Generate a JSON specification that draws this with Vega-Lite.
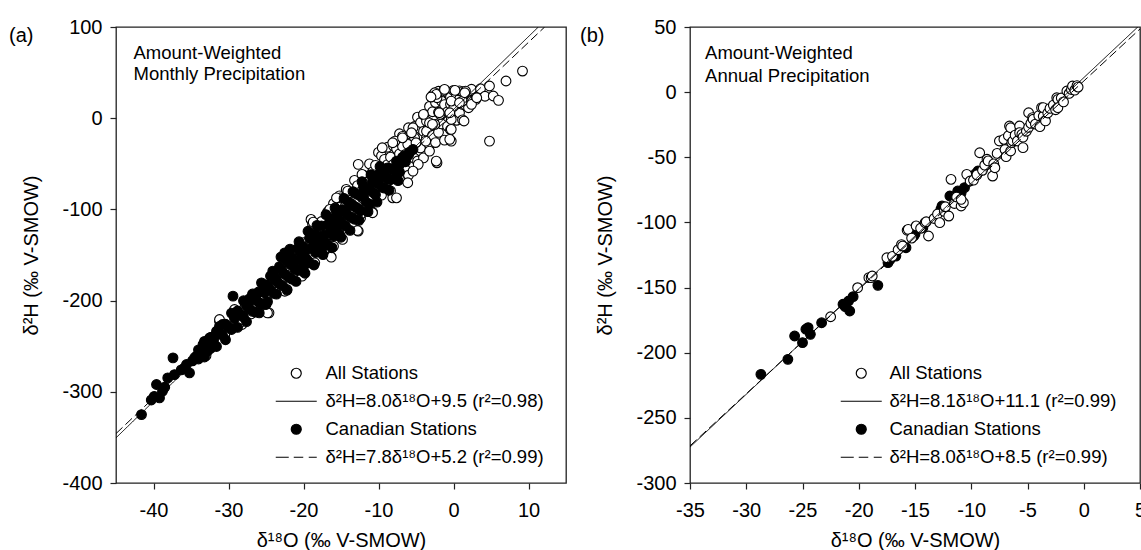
{
  "$schema": "https://vega.github.io/schema/vega-lite/v6.json",
  "background": "white",
  "padding": {"left": 8, "top": 16, "right": 0, "bottom": 0},
  "spacing": 12,
  "config": {
    "font": "Liberation Sans",
    "view": {"stroke": "#222", "strokeWidth": 1.3},
    "axis": {"grid": false, "domain": false, "labelFlush": false, "labelOverlap": false, "tickColor": "#222", "tickSize": 6, "tickWidth": 1.2, "labelFont": "Liberation Sans", "labelFontSize": 20, "labelColor": "black", "titleFont": "Liberation Sans", "titleFontSize": 20, "titleFontWeight": "normal", "titleColor": "black"},
    "axisX": {"labelPadding": 11, "titlePadding": 10},
    "axisY": {"labelPadding": 8, "titlePadding": 20},
    "title": {"font": "Liberation Sans", "fontSize": 20, "fontWeight": "normal", "color": "black"}
  },
  "resolve": {
    "scale": {"x": "independent", "y": "independent", "shape": "independent", "fill": "independent", "strokeDash": "independent"},
    "legend": {"shape": "independent", "fill": "independent"}
  },
  "hconcat": [
    {
      "width": 450,
      "height": 456,
      "title": {"text": "(a)", "anchor": "start", "frame": "bounds", "baseline": "middle", "offset": -39, "dx": -13},
      "layer": [
        {
          "data": {"values": [
            {"s":"o","x":-34.5,"y":-262.5},{"s":"o","x":-33.0,"y":-260.5},{"s":"o","x":-32.2,"y":-240.1},{"s":"o","x":-30.5,"y":-237.5},{"s":"o","x":-27.8,"y":-206.9},{"s":"o","x":-27.0,"y":-214.5},{"s":"o","x":-26.4,"y":-198.7},{"s":"o","x":-25.6,"y":-205.3},{"s":"o","x":-23.8,"y":-175.9},{"s":"o","x":-23.2,"y":-188.1},{"s":"o","x":-21.7,"y":-155.1},{"s":"o","x":-21.0,"y":-172.5},{"s":"o","x":-20.6,"y":-153.3},
            {"s":"o","x":-31.2,"y":-222.6},{"s":"o","x":-29.2,"y":-212.7},{"s":"o","x":-28.2,"y":-226.2},{"s":"o","x":-24.6,"y":-213.4},{"s":"o","x":-22.2,"y":-187.8},{"s":"o","x":-20.2,"y":-173.2},{"s":"o","x":-31.2,"y":-220.7},{"s":"o","x":-28.5,"y":-224.4},{"s":"o","x":-24.8,"y":-213.5},{"s":"o","x":-29.2,"y":-209.8},{"s":"o","x":-22.5,"y":-189.7},
            {"s":"o","x":-20.0,"y":-136.5},{"s":"o","x":-20.0,"y":-168.5},{"s":"o","x":-19.5,"y":-140.5},{"s":"o","x":-19.5,"y":-155.5},{"s":"o","x":-19.0,"y":-122.5},{"s":"o","x":-18.5,"y":-158.5},{"s":"o","x":-18.5,"y":-127.5},{"s":"o","x":-18.0,"y":-132.5},{"s":"o","x":-18.0,"y":-146.5},{"s":"o","x":-17.6,"y":-113.3},{"s":"o","x":-17.2,"y":-144.1},{"s":"o","x":-17.2,"y":-121.1},{"s":"o","x":-16.8,"y":-102.9},{"s":"o","x":-16.4,"y":-127.7},{"s":"o","x":-16.4,"y":-108.7},{"s":"o","x":-16.0,"y":-140.5},{"s":"o","x":-16.0,"y":-93.5},{"s":"o","x":-15.6,"y":-106.3},{"s":"o","x":-15.6,"y":-128.3},{"s":"o","x":-15.2,"y":-85.1},{"s":"o","x":-14.8,"y":-111.9},{"s":"o","x":-14.8,"y":-92.9},{"s":"o","x":-14.8,"y":-132.9},{"s":"o","x":-14.4,"y":-95.7},{"s":"o","x":-14.0,"y":-81.5},{"s":"o","x":-14.0,"y":-111.5},{"s":"o","x":-13.6,"y":-118.3},{"s":"o","x":-13.6,"y":-95.3},{"s":"o","x":-13.2,"y":-68.1},{"s":"o","x":-13.2,"y":-82.1},{"s":"o","x":-12.8,"y":-99.9},{"s":"o","x":-12.8,"y":-73.9},{"s":"o","x":-12.4,"y":-80.7},{"s":"o","x":-12.4,"y":-109.7},{"s":"o","x":-12.0,"y":-62.5},{"s":"o","x":-12.0,"y":-88.5},{"s":"o","x":-11.6,"y":-70.3},{"s":"o","x":-11.6,"y":-97.3},{"s":"o","x":-11.2,"y":-50.1},{"s":"o","x":-11.2,"y":-75.1},{"s":"o","x":-10.8,"y":-85.9},{"s":"o","x":-10.8,"y":-58.9},{"s":"o","x":-10.8,"y":-102.9},{"s":"o","x":-10.4,"y":-65.7},{"s":"o","x":-10.4,"y":-51.7},{"s":"o","x":-10.0,"y":-74.5},{"s":"o","x":-10.0,"y":-37.5},
            {"s":"o","x":-19.0,"y":-111.0},{"s":"o","x":-18.8,"y":-115.8},{"s":"o","x":-18.7,"y":-114.0},{"s":"o","x":-16.6,"y":-101.9},{"s":"o","x":-16.5,"y":-100.0},{"s":"o","x":-15.1,"y":-87.3},{"s":"o","x":-15.6,"y":-87.3},{"s":"o","x":-16.3,"y":-152.4},{"s":"o","x":-14.2,"y":-83.6},{"s":"o","x":-14.3,"y":-78.1},{"s":"o","x":-14.1,"y":-79.9},{"s":"o","x":-12.4,"y":-105.5},{"s":"o","x":-12.7,"y":-123.8},{"s":"o","x":-12.8,"y":-123.1},{"s":"o","x":-11.5,"y":-101.9},{"s":"o","x":-10.8,"y":-103.7},{"s":"o","x":-12.7,"y":-50.6},{"s":"o","x":-12.2,"y":-61.6},
            {"s":"o","x":-9.6,"y":-55.3},{"s":"o","x":-9.6,"y":-84.3},{"s":"o","x":-9.6,"y":-41.3},{"s":"o","x":-9.2,"y":-61.1},{"s":"o","x":-9.2,"y":-45.1},{"s":"o","x":-8.8,"y":-68.9},{"s":"o","x":-8.8,"y":-31.9},{"s":"o","x":-8.8,"y":-50.9},{"s":"o","x":-8.4,"y":-42.7},{"s":"o","x":-8.4,"y":-79.7},{"s":"o","x":-8.0,"y":-50.5},{"s":"o","x":-8.0,"y":-30.5},{"s":"o","x":-8.0,"y":-65.5},{"s":"o","x":-7.6,"y":-33.3},{"s":"o","x":-7.6,"y":-54.3},{"s":"o","x":-7.2,"y":-39.1},{"s":"o","x":-7.2,"y":-67.1},{"s":"o","x":-7.2,"y":-17.1},{"s":"o","x":-6.8,"y":-30.9},{"s":"o","x":-6.8,"y":-50.9},{"s":"o","x":-6.8,"y":-19.9},{"s":"o","x":-6.4,"y":-39.7},{"s":"o","x":-6.4,"y":-21.7},{"s":"o","x":-6.4,"y":-56.7},{"s":"o","x":-6.0,"y":-27.5},{"s":"o","x":-6.0,"y":-62.5},{"s":"o","x":-6.0,"y":-10.5},{"s":"o","x":-5.6,"y":-18.3},{"s":"o","x":-5.6,"y":-39.3},{"s":"o","x":-5.6,"y":-29.3},{"s":"o","x":-5.2,"y":-9.1},{"s":"o","x":-5.2,"y":-44.1},{"s":"o","x":-5.2,"y":-22.1},{"s":"o","x":-4.8,"y":-27.9},{"s":"o","x":-4.8,"y":1.1},{"s":"o","x":-4.8,"y":-46.9},{"s":"o","x":-4.4,"y":-11.7},{"s":"o","x":-4.4,"y":-32.7},{"s":"o","x":-4.4,"y":-4.7},{"s":"o","x":-4.0,"y":-14.5},{"s":"o","x":-4.0,"y":-43.5},{"s":"o","x":-4.0,"y":3.5},{"s":"o","x":-3.6,"y":-3.3},{"s":"o","x":-3.6,"y":-21.3},{"s":"o","x":-3.6,"y":-14.3},{"s":"o","x":-3.2,"y":12.9},{"s":"o","x":-3.2,"y":-29.1},{"s":"o","x":-3.2,"y":-5.1},{"s":"o","x":-2.8,"y":7.1},{"s":"o","x":-2.8,"y":-18.9},{"s":"o","x":-2.8,"y":25.1},{"s":"o","x":-2.4,"y":-6.7},{"s":"o","x":-2.4,"y":17.3},{"s":"o","x":-2.4,"y":-26.7},{"s":"o","x":-2.0,"y":6.5},{"s":"o","x":-2.0,"y":29.5},{"s":"o","x":-2.0,"y":-15.5},{"s":"o","x":-1.6,"y":18.7},{"s":"o","x":-1.6,"y":-6.3},{"s":"o","x":-1.6,"y":4.7},{"s":"o","x":-1.2,"y":30.9},{"s":"o","x":-1.2,"y":-24.1},{"s":"o","x":-1.2,"y":14.9},{"s":"o","x":-0.8,"y":7.1},{"s":"o","x":-0.8,"y":28.1},{"s":"o","x":-0.8,"y":-8.9},{"s":"o","x":-0.4,"y":23.3},{"s":"o","x":-0.4,"y":-12.7},{"s":"o","x":-0.4,"y":15.3},{"s":"o","x":0.0,"y":30.5},{"s":"o","x":0.0,"y":3.5},{"s":"o","x":0.0,"y":10.5},{"s":"o","x":0.4,"y":-2.3},{"s":"o","x":0.4,"y":24.7},{"s":"o","x":0.8,"y":20.9},{"s":"o","x":0.8,"y":5.9},{"s":"o","x":0.8,"y":29.9},{"s":"o","x":1.2,"y":15.1},{"s":"o","x":1.2,"y":29.1},{"s":"o","x":1.2,"y":-1.9},{"s":"o","x":1.6,"y":29.3},{"s":"o","x":1.6,"y":14.3},{"s":"o","x":2.0,"y":23.5},{"s":"o","x":2.0,"y":11.5},{"s":"o","x":2.4,"y":19.7},{"s":"o","x":2.4,"y":31.7},{"s":"o","x":3.0,"y":22.5},{"s":"o","x":3.6,"y":32.3},{"s":"o","x":4.2,"y":24.1},
            {"s":"o","x":-2.5,"y":27.9},{"s":"o","x":-1.3,"y":30.5},{"s":"o","x":0.2,"y":30.5},{"s":"o","x":1.6,"y":29.7},{"s":"o","x":-2.2,"y":22.4},{"s":"o","x":-0.3,"y":18.8},{"s":"o","x":1.2,"y":18.8},{"s":"o","x":2.4,"y":18.8},{"s":"o","x":-4.0,"y":4.2},{"s":"o","x":-1.8,"y":4.2},{"s":"o","x":-2.5,"y":-6.8},{"s":"o","x":-0.3,"y":-1.3},{"s":"o","x":1.4,"y":-3.1},{"s":"o","x":-0.3,"y":-12.2},{"s":"o","x":-0.3,"y":-25.1},{"s":"o","x":-2.2,"y":-48.9},{"s":"o","x":-5.4,"y":-10.5},{"s":"o","x":-5.2,"y":-21.5},{"s":"o","x":-9.5,"y":-32.4},{"s":"o","x":-7.8,"y":-25.1},{"s":"o","x":-6.1,"y":-28.7},{"s":"o","x":-3.7,"y":-25.1},{"s":"o","x":-3.2,"y":-36.1},{"s":"o","x":-4.7,"y":-50.6},{"s":"o","x":-5.4,"y":-58.0},{"s":"o","x":-6.1,"y":-70.8},{"s":"o","x":-8.1,"y":-87.3},{"s":"o","x":-7.6,"y":-87.3},{"s":"o","x":-9.0,"y":-72.6},{"s":"o","x":-2.3,"y":26.1},{"s":"o","x":-1.2,"y":31.6},{"s":"o","x":1.5,"y":27.9},{"s":"o","x":3.0,"y":20.7},{"s":"o","x":-3.0,"y":23.2},{"s":"o","x":0.8,"y":16.9},{"s":"o","x":2.4,"y":15.2},{"s":"o","x":-1.9,"y":6.0},{"s":"o","x":-0.5,"y":6.0},{"s":"o","x":-2.8,"y":-6.8},{"s":"o","x":-0.5,"y":-23.2},{"s":"o","x":-5.6,"y":-16.0},{"s":"o","x":-6.8,"y":-21.5},{"s":"o","x":-8.1,"y":-26.9},{"s":"o","x":-5.0,"y":-26.9},{"s":"o","x":-2.3,"y":-47.0},
            {"s":"o","x":9.2,"y":51.7},{"s":"o","x":7.0,"y":40.8},{"s":"o","x":4.8,"y":35.3},{"s":"o","x":5.3,"y":24.3},{"s":"o","x":6.0,"y":19.6},{"s":"o","x":4.8,"y":-25.1},{"s":"o","x":3.1,"y":22.4},
            {"s":"f","x":-41.6,"y":-325.0},{"s":"f","x":-40.3,"y":-309.0},{"s":"f","x":-39.9,"y":-305.0},{"s":"f","x":-39.6,"y":-292.0},{"s":"f","x":-39.2,"y":-306.7},{"s":"f","x":-38.8,"y":-299.4},{"s":"f","x":-38.5,"y":-295.0},{"s":"f","x":-38.1,"y":-284.8},{"s":"f","x":-37.2,"y":-281.1},{"s":"f","x":-37.4,"y":-262.8},{"s":"f","x":-36.3,"y":-276.0},{"s":"f","x":-35.9,"y":-274.0},{"s":"f","x":-35.2,"y":-279.3},{"s":"f","x":-35.6,"y":-270.1},{"s":"f","x":-34.8,"y":-266.0},{"s":"f","x":-34.3,"y":-261.0},{"s":"f","x":-33.4,"y":-248.2},{"s":"f","x":-32.8,"y":-255.5},{"s":"f","x":-32.5,"y":-240.9},{"s":"f","x":-31.6,"y":-233.6},{"s":"f","x":-30.8,"y":-226.2},{"s":"f","x":-29.4,"y":-195.1},{"s":"f","x":-27.2,"y":-200.6},{"s":"f","x":-26.3,"y":-193.3},{"s":"f","x":-25.9,"y":-213.5},{"s":"f","x":-25.0,"y":-204.3},{"s":"f","x":-24.1,"y":-167.7},{"s":"f","x":-23.6,"y":-178.7},{"s":"f","x":-22.5,"y":-147.6},{"s":"f","x":-5.4,"y":-34.2},
            {"s":"f","x":-34.0,"y":-264.0},{"s":"f","x":-34.0,"y":-254.0},{"s":"f","x":-33.6,"y":-254.9},{"s":"f","x":-33.2,"y":-261.8},{"s":"f","x":-33.2,"y":-244.8},{"s":"f","x":-32.8,"y":-250.6},{"s":"f","x":-32.4,"y":-252.5},{"s":"f","x":-32.4,"y":-240.5},{"s":"f","x":-32.0,"y":-243.4},{"s":"f","x":-31.6,"y":-250.3},{"s":"f","x":-31.6,"y":-237.3},{"s":"f","x":-31.2,"y":-228.2},{"s":"f","x":-30.8,"y":-238.0},{"s":"f","x":-30.4,"y":-225.9},{"s":"f","x":-30.4,"y":-242.9},{"s":"f","x":-30.0,"y":-228.8},{"s":"f","x":-29.6,"y":-213.7},{"s":"f","x":-29.6,"y":-231.7},{"s":"f","x":-29.2,"y":-219.6},{"s":"f","x":-28.8,"y":-229.4},{"s":"f","x":-28.8,"y":-211.4},{"s":"f","x":-28.4,"y":-215.3},{"s":"f","x":-28.0,"y":-200.2},{"s":"f","x":-28.0,"y":-218.2},{"s":"f","x":-27.6,"y":-223.1},{"s":"f","x":-27.6,"y":-206.1},{"s":"f","x":-27.2,"y":-198.0},{"s":"f","x":-27.2,"y":-209.0},{"s":"f","x":-26.8,"y":-211.8},{"s":"f","x":-26.8,"y":-192.8},{"s":"f","x":-26.4,"y":-198.7},{"s":"f","x":-26.4,"y":-212.7},{"s":"f","x":-26.0,"y":-190.6},{"s":"f","x":-26.0,"y":-201.6},{"s":"f","x":-25.6,"y":-180.5},{"s":"f","x":-25.6,"y":-203.5},{"s":"f","x":-25.2,"y":-191.4},{"s":"f","x":-25.2,"y":-183.4},{"s":"f","x":-24.8,"y":-201.2},{"s":"f","x":-24.8,"y":-183.2},{"s":"f","x":-24.4,"y":-188.1},{"s":"f","x":-24.4,"y":-173.1},{"s":"f","x":-24.0,"y":-173.0},{"s":"f","x":-24.0,"y":-192.0},{"s":"f","x":-23.6,"y":-177.9},{"s":"f","x":-23.6,"y":-192.9},{"s":"f","x":-23.2,"y":-162.8},{"s":"f","x":-23.2,"y":-181.8},{"s":"f","x":-22.8,"y":-168.6},{"s":"f","x":-22.8,"y":-183.6},{"s":"f","x":-22.4,"y":-154.5},{"s":"f","x":-22.4,"y":-171.5},{"s":"f","x":-22.0,"y":-174.4},{"s":"f","x":-22.0,"y":-159.4},{"s":"f","x":-21.6,"y":-152.3},{"s":"f","x":-21.6,"y":-176.3},{"s":"f","x":-21.2,"y":-158.2},{"s":"f","x":-21.2,"y":-165.2},{"s":"f","x":-20.8,"y":-143.0},{"s":"f","x":-20.8,"y":-167.0},{"s":"f","x":-20.4,"y":-147.9},{"s":"f","x":-20.4,"y":-154.9},{"s":"f","x":-20.0,"y":-162.8},{"s":"f","x":-20.0,"y":-140.8},{"s":"f","x":-19.6,"y":-144.7},{"s":"f","x":-19.6,"y":-154.7},{"s":"f","x":-19.2,"y":-131.6},{"s":"f","x":-19.2,"y":-158.6},{"s":"f","x":-18.8,"y":-141.4},{"s":"f","x":-18.8,"y":-133.4},{"s":"f","x":-18.4,"y":-147.3},{"s":"f","x":-18.4,"y":-127.3},{"s":"f","x":-18.0,"y":-131.2},{"s":"f","x":-18.0,"y":-139.2},{"s":"f","x":-17.6,"y":-118.1},{"s":"f","x":-17.6,"y":-144.1},{"s":"f","x":-17.2,"y":-128.0},{"s":"f","x":-17.2,"y":-136.0},{"s":"f","x":-16.8,"y":-116.8},{"s":"f","x":-16.8,"y":-138.8},{"s":"f","x":-16.4,"y":-124.7},{"s":"f","x":-16.4,"y":-110.7},{"s":"f","x":-16.0,"y":-113.6},{"s":"f","x":-16.0,"y":-129.6},{"s":"f","x":-15.6,"y":-121.5},{"s":"f","x":-15.6,"y":-103.5},{"s":"f","x":-15.2,"y":-111.4},{"s":"f","x":-15.2,"y":-127.4},{"s":"f","x":-14.8,"y":-100.2},{"s":"f","x":-14.8,"y":-116.2},{"s":"f","x":-14.4,"y":-118.1},{"s":"f","x":-14.4,"y":-102.1},{"s":"f","x":-14.0,"y":-92.0},{"s":"f","x":-14.0,"y":-107.0},{"s":"f","x":-13.6,"y":-108.9},{"s":"f","x":-13.6,"y":-93.9},{"s":"f","x":-13.2,"y":-96.8},{"s":"f","x":-13.2,"y":-110.8},{"s":"f","x":-12.8,"y":-83.6},{"s":"f","x":-12.8,"y":-98.6},{"s":"f","x":-12.4,"y":-101.5},{"s":"f","x":-12.4,"y":-85.5},{"s":"f","x":-12.0,"y":-86.4},{"s":"f","x":-12.0,"y":-75.4},{"s":"f","x":-11.6,"y":-92.3},{"s":"f","x":-11.6,"y":-76.3},{"s":"f","x":-11.2,"y":-78.2},{"s":"f","x":-11.2,"y":-94.2},{"s":"f","x":-10.8,"y":-69.0},{"s":"f","x":-10.8,"y":-81.0},{"s":"f","x":-10.4,"y":-83.9},{"s":"f","x":-10.4,"y":-69.9},{"s":"f","x":-10.0,"y":-71.8},{"s":"f","x":-10.0,"y":-61.8},{"s":"f","x":-9.6,"y":-75.7},{"s":"f","x":-9.6,"y":-61.7},{"s":"f","x":-9.2,"y":-63.6},{"s":"f","x":-9.2,"y":-76.6},{"s":"f","x":-8.8,"y":-54.4},{"s":"f","x":-8.8,"y":-66.4},{"s":"f","x":-8.4,"y":-67.3},{"s":"f","x":-8.4,"y":-55.3},{"s":"f","x":-8.0,"y":-55.2},{"s":"f","x":-8.0,"y":-66.2},{"s":"f","x":-7.6,"y":-47.1},{"s":"f","x":-7.6,"y":-58.1},{"s":"f","x":-7.2,"y":-51.0},{"s":"f","x":-7.2,"y":-59.0},{"s":"f","x":-6.8,"y":-42.8},{"s":"f","x":-6.4,"y":-47.7},{"s":"f","x":-6.4,"y":-40.7},{"s":"f","x":-6.0,"y":-40.6},{"s":"f","x":-5.8,"y":-37.0},
            {"s":"f","x":-23.0,"y":-152.2},{"s":"f","x":-21.8,"y":-143.5},{"s":"f","x":-20.6,"y":-135.5},{"s":"f","x":-19.4,"y":-124.0},{"s":"f","x":-18.2,"y":-117.5},{"s":"f","x":-17.0,"y":-105.8},{"s":"f","x":-15.8,"y":-98.5},{"s":"f","x":-14.6,"y":-88.0},{"s":"f","x":-13.4,"y":-80.5},{"s":"f","x":-12.2,"y":-69.5},{"s":"f","x":-11.0,"y":-62.0},{"s":"f","x":-9.8,"y":-53.0},
            {"s":"f","x":-22.2,"y":-188.5},{"s":"f","x":-21.0,"y":-179.0},{"s":"f","x":-19.8,"y":-170.0},{"s":"f","x":-18.6,"y":-161.0},{"s":"f","x":-17.4,"y":-149.5},{"s":"f","x":-16.2,"y":-142.0},{"s":"f","x":-15.0,"y":-130.5},{"s":"f","x":-13.8,"y":-123.0},{"s":"f","x":-12.6,"y":-112.0},{"s":"f","x":-11.4,"y":-102.5},{"s":"f","x":-10.2,"y":-92.0},{"s":"f","x":-8.6,"y":-79.0},{"s":"f","x":-7.4,"y":-68.5}
          ]},
          "mark": {"type": "point", "filled": true, "size": 95, "stroke": "black", "strokeWidth": 1.1, "opacity": 1},
          "encoding": {
            "x": {"field": "x", "type": "quantitative", "scale": {"domain": [-45, 15], "nice": false, "zero": false}, "axis": {"values": [-40, -30, -20, -10, 0, 10], "labelExpr": "'' + datum.value", "title": "δ¹⁸O (‰ V-SMOW)"}},
            "y": {"field": "y", "type": "quantitative", "scale": {"domain": [-400, 100], "nice": false, "zero": false}, "axis": {"values": [-400, -300, -200, -100, 0, 100], "labelExpr": "'' + datum.value", "title": "δ²H (‰ V-SMOW)"}},
            "shape": {"field": "s", "type": "nominal", "scale": {"domain": ["o", "l1", "f", "l2"], "range": ["circle", "M-4.1,0H4.1", "circle", "M-4.1,0H-1.5M-0.5,0H1.4M2.5,0H4.1"]},
              "legend": {"title": null, "orient": "none", "legendX": 171, "legendY": 337, "padding": 0, "labelFont": "Liberation Sans", "labelFontSize": 18.5, "labelColor": "black", "labelLimit": 500, "labelOffset": 20, "symbolSize": 100, "symbolStrokeColor": "black", "symbolStrokeWidth": 1.2, "symbolOpacity": 1, "rowPadding": 9,
                "encoding": {"symbols": {"stroke": {"value": "black"}, "strokeWidth": {"value": 1.2}}},
                "labelExpr": "datum.value == 'o' ? 'All Stations' : datum.value == 'l1' ? 'δ²H=8.0δ¹⁸O+9.5 (r²=0.98)' : datum.value == 'f' ? 'Canadian Stations' : 'δ²H=7.8δ¹⁸O+5.2 (r²=0.99)'"}},
            "fill": {"field": "s", "type": "nominal", "scale": {"domain": ["o", "l1", "f", "l2"], "range": ["white", "transparent", "black", "transparent"]},
              "legend": {"title": null, "orient": "none", "legendX": 171, "legendY": 337, "padding": 0, "labelFont": "Liberation Sans", "labelFontSize": 18.5, "labelColor": "black", "labelLimit": 500, "labelOffset": 20, "symbolSize": 100, "symbolStrokeColor": "black", "symbolStrokeWidth": 1.2, "symbolOpacity": 1, "rowPadding": 9,
                "encoding": {"symbols": {"stroke": {"value": "black"}, "strokeWidth": {"value": 1.2}}},
                "labelExpr": "datum.value == 'o' ? 'All Stations' : datum.value == 'l1' ? 'δ²H=8.0δ¹⁸O+9.5 (r²=0.98)' : datum.value == 'f' ? 'Canadian Stations' : 'δ²H=7.8δ¹⁸O+5.2 (r²=0.99)'"}}
          }
        },
        {
          "data": {"values": [
            {"s": "l1", "x": -45, "y": -350.5}, {"s": "l1", "x": 11.3125, "y": 100},
            {"s": "l2", "x": -45, "y": -345.8}, {"s": "l2", "x": 12.154, "y": 100}
          ]},
          "mark": {"type": "line", "color": "black", "strokeWidth": 1, "clip": true},
          "encoding": {
            "x": {"field": "x", "type": "quantitative"},
            "y": {"field": "y", "type": "quantitative"},
            "strokeDash": {"field": "s", "type": "nominal", "scale": {"domain": ["l1", "l2"], "range": [[1, 0], [9, 4]]}, "legend": null}
          }
        },
        {
          "data": {"values": [{"t": ["Amount-Weighted", "Monthly Precipitation"]}]},
          "mark": {"type": "text", "align": "left", "baseline": "alphabetic", "font": "Liberation Sans", "fontSize": 18.5, "lineHeight": 21, "color": "black"},
          "encoding": {
            "x": {"datum": -42.67, "type": "quantitative"},
            "y": {"datum": 64.9, "type": "quantitative"},
            "text": {"field": "t"}
          }
        }
      ]
    },
    {
      "width": 450,
      "height": 456,
      "title": {"text": "(b)", "anchor": "start", "frame": "bounds", "baseline": "middle", "offset": -39, "dx": -16},
      "layer": [
        {
          "data": {"values": [
            {"s":"f","x":-28.7,"y":-216.6},{"s":"f","x":-26.3,"y":-205.1},{"s":"f","x":-25.7,"y":-187.2},{"s":"f","x":-24.7,"y":-182.0},{"s":"f","x":-24.3,"y":-185.9},{"s":"f","x":-25.0,"y":-192.3},{"s":"f","x":-24.5,"y":-180.8},{"s":"f","x":-23.3,"y":-177.0},{"s":"f","x":-21.4,"y":-162.8},{"s":"f","x":-21.2,"y":-164.6},{"s":"f","x":-20.9,"y":-160.3},{"s":"f","x":-20.8,"y":-168.0},{"s":"f","x":-20.5,"y":-157.0},{"s":"f","x":-18.3,"y":-148.3},{"s":"f","x":-17.2,"y":-128.3},{"s":"f","x":-17.4,"y":-130.9},{"s":"f","x":-16.7,"y":-125.8},{"s":"f","x":-15.8,"y":-119.4},{"s":"f","x":-15.1,"y":-110.4},{"s":"f","x":-15.0,"y":-109.1},{"s":"f","x":-14.3,"y":-104.0},{"s":"f","x":-12.7,"y":-89.9},{"s":"f","x":-12.6,"y":-87.4},{"s":"f","x":-11.9,"y":-79.7},{"s":"f","x":-11.2,"y":-77.2},{"s":"f","x":-11.2,"y":-75.9},{"s":"f","x":-10.6,"y":-73.3},{"s":"f","x":-10.9,"y":-77.5},{"s":"f","x":-9.4,"y":-60.5},{"s":"f","x":-9.4,"y":-61.8},{"s":"f","x":-9.6,"y":-62.5},
            {"s":"o","x":-22.5,"y":-172.4},{"s":"o","x":-20.1,"y":-150.1},{"s":"o","x":-19.1,"y":-142.4},{"s":"o","x":-18.9,"y":-142.4},{"s":"o","x":-18.8,"y":-141.1},{"s":"o","x":-17.5,"y":-127.1},{"s":"o","x":-17.0,"y":-126.0},{"s":"o","x":-16.5,"y":-121.0},{"s":"o","x":-16.2,"y":-117.0},{"s":"o","x":-16.1,"y":-118.1},{"s":"o","x":-15.7,"y":-106.0},{"s":"o","x":-15.6,"y":-105.3},{"s":"o","x":-15.3,"y":-112.0},{"s":"o","x":-14.9,"y":-102.7},{"s":"o","x":-14.5,"y":-104.5},{"s":"o","x":-14.1,"y":-100.2},{"s":"o","x":-14.0,"y":-99.5},{"s":"o","x":-13.8,"y":-110.4},{"s":"o","x":-13.3,"y":-97.0},{"s":"o","x":-13.0,"y":-93.5},{"s":"o","x":-12.8,"y":-100.2},{"s":"o","x":-12.4,"y":-91.5},{"s":"o","x":-12.3,"y":-88.0},{"s":"o","x":-12.0,"y":-95.1},{"s":"o","x":-11.8,"y":-66.9},{"s":"o","x":-11.5,"y":-85.5},{"s":"o","x":-11.3,"y":-80.5},{"s":"o","x":-10.9,"y":-87.4},{"s":"o","x":-10.7,"y":-84.8},{"s":"o","x":-10.9,"y":-82.3},{"s":"o","x":-10.4,"y":-63.1},{"s":"o","x":-10.1,"y":-68.2},{"s":"o","x":-9.8,"y":-67.5},{"s":"o","x":-9.5,"y":-63.5},{"s":"o","x":-9.25,"y":-46.5},{"s":"o","x":-9.0,"y":-60.0},{"s":"o","x":-8.8,"y":-56.0},{"s":"o","x":-8.6,"y":-51.5},{"s":"o","x":-8.5,"y":-52.8},{"s":"o","x":-8.1,"y":-64.4},{"s":"o","x":-8.0,"y":-55.0},{"s":"o","x":-7.9,"y":-58.0},{"s":"o","x":-7.7,"y":-47.0},{"s":"o","x":-7.5,"y":-37.5},{"s":"o","x":-7.1,"y":-36.2},{"s":"o","x":-7.0,"y":-44.0},{"s":"o","x":-6.9,"y":-49.5},{"s":"o","x":-6.7,"y":-33.5},{"s":"o","x":-6.6,"y":-26.0},{"s":"o","x":-6.5,"y":-45.2},{"s":"o","x":-6.5,"y":-27.3},{"s":"o","x":-6.4,"y":-38.8},{"s":"o","x":-6.3,"y":-37.5},{"s":"o","x":-6.1,"y":-33.0},{"s":"o","x":-5.9,"y":-37.5},{"s":"o","x":-5.7,"y":-26.0},{"s":"o","x":-5.7,"y":-31.1},{"s":"o","x":-5.5,"y":-32.4},{"s":"o","x":-5.4,"y":-34.5},{"s":"o","x":-5.4,"y":-42.6},{"s":"o","x":-5.1,"y":-30.0},{"s":"o","x":-4.9,"y":-27.0},{"s":"o","x":-4.9,"y":-15.8},{"s":"o","x":-4.7,"y":-24.0},{"s":"o","x":-4.55,"y":-19.6},{"s":"o","x":-4.5,"y":-20.8},{"s":"o","x":-4.3,"y":-24.5},{"s":"o","x":-4.0,"y":-18.0},{"s":"o","x":-3.9,"y":-26.5},{"s":"o","x":-3.75,"y":-11.9},{"s":"o","x":-3.6,"y":-18.5},{"s":"o","x":-3.6,"y":-11.9},{"s":"o","x":-3.4,"y":-22.1},{"s":"o","x":-3.2,"y":-16.0},{"s":"o","x":-3.0,"y":-12.5},{"s":"o","x":-2.7,"y":-10.0},{"s":"o","x":-2.5,"y":-13.5},{"s":"o","x":-2.4,"y":-4.3},{"s":"o","x":-2.3,"y":-5.5},{"s":"o","x":-2.3,"y":-11.9},{"s":"o","x":-2.0,"y":-4.5},{"s":"o","x":-1.8,"y":-7.5},{"s":"o","x":-1.5,"y":0.9},{"s":"o","x":-1.3,"y":-1.0},{"s":"o","x":-1.1,"y":2.0},{"s":"o","x":-1.0,"y":4.7},{"s":"o","x":-0.8,"y":1.5},{"s":"o","x":-0.6,"y":5.0},{"s":"o","x":-0.5,"y":3.9}
          ]},
          "mark": {"type": "point", "filled": true, "size": 95, "stroke": "black", "strokeWidth": 1.1, "opacity": 1},
          "encoding": {
            "x": {"field": "x", "type": "quantitative", "scale": {"domain": [-35, 5], "nice": false, "zero": false}, "axis": {"values": [-35, -30, -25, -20, -15, -10, -5, 0, 5], "labelExpr": "'' + datum.value", "title": "δ¹⁸O (‰ V-SMOW)"}},
            "y": {"field": "y", "type": "quantitative", "scale": {"domain": [-300, 50], "nice": false, "zero": false}, "axis": {"values": [-300, -250, -200, -150, -100, -50, 0, 50], "labelExpr": "'' + datum.value", "title": "δ²H (‰ V-SMOW)"}},
            "shape": {"field": "s", "type": "nominal", "scale": {"domain": ["o", "l1", "f", "l2"], "range": ["circle", "M-4.1,0H4.1", "circle", "M-4.1,0H-1.5M-0.5,0H1.4M2.5,0H4.1"]},
              "legend": {"title": null, "orient": "none", "legendX": 162, "legendY": 337, "padding": 0, "labelFont": "Liberation Sans", "labelFontSize": 18.5, "labelColor": "black", "labelLimit": 500, "labelOffset": 19, "symbolSize": 100, "symbolStrokeColor": "black", "symbolStrokeWidth": 1.2, "symbolOpacity": 1, "rowPadding": 9,
                "encoding": {"symbols": {"stroke": {"value": "black"}, "strokeWidth": {"value": 1.2}}},
                "labelExpr": "datum.value == 'o' ? 'All Stations' : datum.value == 'l1' ? 'δ²H=8.1δ¹⁸O+11.1 (r²=0.99)' : datum.value == 'f' ? 'Canadian Stations' : 'δ²H=8.0δ¹⁸O+8.5 (r²=0.99)'"}},
            "fill": {"field": "s", "type": "nominal", "scale": {"domain": ["o", "l1", "f", "l2"], "range": ["white", "transparent", "black", "transparent"]},
              "legend": {"title": null, "orient": "none", "legendX": 162, "legendY": 337, "padding": 0, "labelFont": "Liberation Sans", "labelFontSize": 18.5, "labelColor": "black", "labelLimit": 500, "labelOffset": 19, "symbolSize": 100, "symbolStrokeColor": "black", "symbolStrokeWidth": 1.2, "symbolOpacity": 1, "rowPadding": 9,
                "encoding": {"symbols": {"stroke": {"value": "black"}, "strokeWidth": {"value": 1.2}}},
                "labelExpr": "datum.value == 'o' ? 'All Stations' : datum.value == 'l1' ? 'δ²H=8.1δ¹⁸O+11.1 (r²=0.99)' : datum.value == 'f' ? 'Canadian Stations' : 'δ²H=8.0δ¹⁸O+8.5 (r²=0.99)'"}}
          }
        },
        {
          "data": {"values": [
            {"s": "l1", "x": -35, "y": -272.4}, {"s": "l1", "x": 4.8025, "y": 50},
            {"s": "l2", "x": -35, "y": -271.5}, {"s": "l2", "x": 5, "y": 48.5}
          ]},
          "mark": {"type": "line", "color": "black", "strokeWidth": 1, "clip": true},
          "encoding": {
            "x": {"field": "x", "type": "quantitative"},
            "y": {"field": "y", "type": "quantitative"},
            "strokeDash": {"field": "s", "type": "nominal", "scale": {"domain": ["l1", "l2"], "range": [[1, 0], [9, 4]]}, "legend": null}
          }
        },
        {
          "data": {"values": [{"t": ["Amount-Weighted", "Annual Precipitation"]}]},
          "mark": {"type": "text", "align": "left", "baseline": "alphabetic", "font": "Liberation Sans", "fontSize": 18.5, "lineHeight": 23, "color": "black"},
          "encoding": {
            "x": {"datum": -33.66, "type": "quantitative"},
            "y": {"datum": 25.4, "type": "quantitative"},
            "text": {"field": "t"}
          }
        }
      ]
    }
  ]
}
